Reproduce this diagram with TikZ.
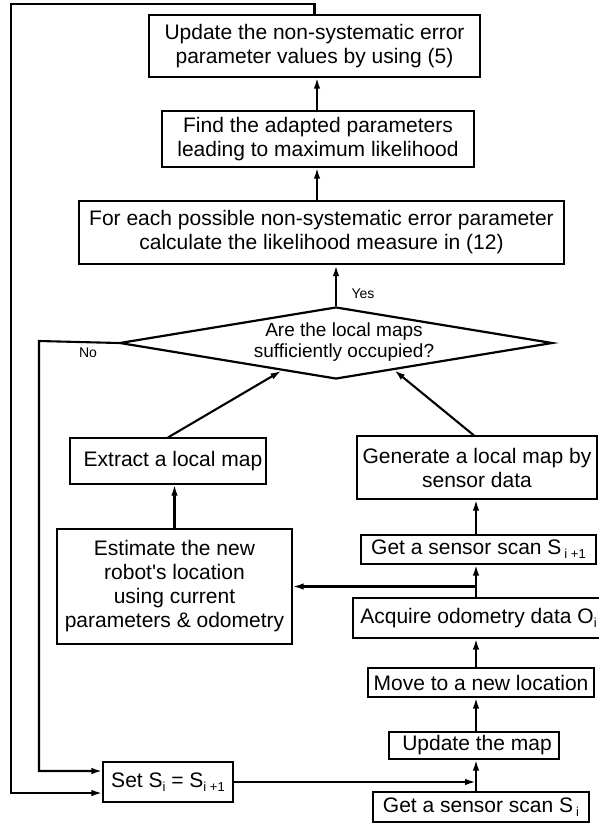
\documentclass[tikz,border=0pt]{standalone}
\usepackage{fontspec}
\setmainfont{Liberation Sans}[Ligatures=TeXOff]
\usetikzlibrary{arrows.meta,shapes.geometric,calc}
\newcommand\lowsub[1]{\raisebox{-0.35ex}{\fontsize{13}{13}\selectfont #1}}
\begin{document}
\begin{tikzpicture}[x=1pt,y=-1pt,
  box/.style={draw,line width=1.1pt,inner sep=0pt,align=center,font=\fontsize{21}{24}\selectfont},
  thickbox/.style={box,line width=2.4pt},
  conn/.style={line width=2.1pt,line join=miter},
  arr/.style={conn,-{Latex[length=11pt,width=6.5pt]}},
  small/.style={font=\fontsize{14}{16}\selectfont}]
\useasboundingbox (0,0) rectangle (598,825);
% boxes
\node[box,minimum width=331pt,minimum height=62pt] (b1) at (314.5,46) {Update the non-systematic error\\parameter values by using (5)};
\node[box,minimum width=312pt,minimum height=56pt] (b2) at (318,139) {Find the adapted parameters\\leading to maximum likelihood};
\node[thickbox,minimum width=485pt,minimum height=63pt] (b3) at (321.5,232.5) {For each possible non-systematic error parameter\\calculate the likelihood measure in (12)};
\node[draw,shape=diamond,line width=2.2pt,inner sep=0pt,minimum width=433pt,minimum height=72pt] (d) at (336,343) {};
\node[align=center,font=\fontsize{19}{20.5}\selectfont] (dt) at (344,342) {Are the local maps\\sufficiently occupied?};
\node[box,minimum width=196pt,minimum height=46pt] (ext) at (168,461) {\hspace{10pt}Extract a local map};
\node[box,minimum width=240pt,minimum height=63pt] (gen) at (477,467.5) {Generate a local map by\\sensor data};
\node[box,minimum width=235pt,minimum height=115pt] (est) at (174.5,586.5) {Estimate the new\\robot's location\\using current\\parameters \& odometry};
\node[box,minimum width=235pt,minimum height=29pt] (gs1) at (478.5,549.5) {Get a sensor scan S\hspace{3pt}\lowsub{i +1}};
\node[box,minimum width=257pt,minimum height=40pt] (acq) at (481.5,618) {\hspace{-6pt}Acquire odometry data O\lowsub{i}};
\node[box,minimum width=226pt,minimum height=29pt] (mov) at (481,682.5) {Move to a new location};
\node[box,minimum width=170pt,minimum height=27pt] (upd) at (474,745.5) {\hspace{6pt}Update the map};
\node[box,minimum width=130pt,minimum height=40pt] (set) at (168,782) {Set S\lowsub{i} = S\lowsub{i +1}};
\node[box,minimum width=216pt,minimum height=30pt] (gs0) at (481,807) {Get a sensor scan S\hspace{3pt}\lowsub{i}};
% labels
\node[small] (yes) at (363,294) {Yes};
\node[small] (no) at (88,353) {No};
% helper coordinates
\coordinate (col) at (476,0);
\coordinate (col2) at (317,0);
\coordinate (lt) at (11,4);
\coordinate (nc) at (39,341);
% right column
\draw[arr] (col |- gs0.north) -- (col |- upd.south);
\draw[arr] (col |- upd.north) -- (col |- mov.south);
\draw[arr] (col |- mov.north) -- (col |- acq.south);
\draw[arr] (col |- acq.north) -- (col |- gs1.south);
\draw[arr] (col |- est.east) -- (est.east);
\draw[arr] (gs1.north -| col) -- (gen.south -| col);
\draw[arr] (set.east) -- (set.east -| col);
% to diamond
\draw[arr] (est.north) -- (est.north |- ext.south);
\draw[arr] (ext.north) -- (d.207);
\draw[arr] ([xshift=-3pt]gen.north) -- (d.-25);
% upward chain
\draw[arr] (d.north) -- (d.north |- b3.south);
\draw[arr] (col2 |- b3.north) -- (col2 |- b2.south);
\draw[arr] (col2 |- b2.north) -- (col2 |- b1.south);
% loops
\draw[arr] (b1.north) |- (lt) |- ([yshift=-11pt]set.west);
\draw[arr] (d.west) -- (nc) |- ([yshift=11pt]set.west);
\end{tikzpicture}
\end{document}
